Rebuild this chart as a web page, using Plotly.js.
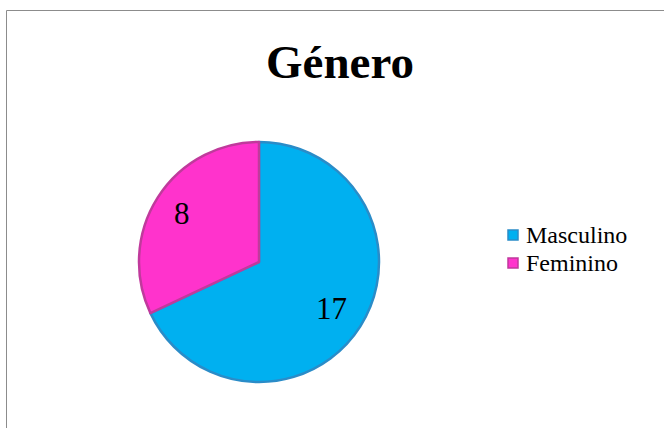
<!DOCTYPE html>
<html><head><meta charset="utf-8">
<script src="https://cdn.plot.ly/plotly-3.0.1.min.js"></script>
<style>html,body{margin:0;padding:0;background:#fff}#c{width:664px;height:428px}</style>
</head><body><div id="c"></div>
<script>
const categories = ['Masculino', 'Feminino'];
const values = [17, 8];
const sliceColors = ['#00B0F0', '#FF33CC'];
const edgeColors = ['#2A8CC8', '#C03A9C'];
const chartTitle = 'Género';

const W = 664, H = 428;
const px = x => x / W, py = y => 1 - y / H;
const serif = '"Liberation Serif", "Times New Roman", serif';

// pie geometry (pixels)
const cx = 259, cy = 262, R = 120;

const trace = {
  type: 'pie',
  labels: categories,
  values: values,
  sort: false,
  direction: 'clockwise',
  rotation: 0,
  textinfo: 'none',
  marker: {colors: sliceColors, line: {color: edgeColors, width: 2.5}},
  domain: {x: [px(cx - R), px(cx + R)], y: [py(cy + R), py(cy - R)]},
  showlegend: false,
  hoverinfo: 'none'
};

// value labels placed at the middle angle of each slice
const total = values.reduce((a, b) => a + b, 0);
const labelR = [0.72, 0.76];
let acc = 0;
const annotations = values.map((v, i) => {
  const mid = (acc + v / 2) / total * 2 * Math.PI; acc += v;
  const x = cx + Math.sin(mid) * R * labelR[i];
  const y = cy - Math.cos(mid) * R * labelR[i];
  return {xref: 'paper', yref: 'paper', x: px(x), y: py(y), xanchor: 'center', yanchor: 'middle',
          text: String(v), showarrow: false, font: {family: serif, size: 31, color: '#000'}};
});

// legend (text + swatches)
const legX = 508, legY0 = 235, legStep = 28;
const shapes = [
  {type: 'line', xref: 'paper', yref: 'paper', x0: px(6.5), x1: 1.05, y0: py(10.5), y1: py(10.5), line: {color: '#8c8c8c', width: 1}},
  {type: 'line', xref: 'paper', yref: 'paper', x0: px(6.5), x1: px(6.5), y0: py(10.5), y1: -0.05, line: {color: '#8c8c8c', width: 1}}
];
categories.forEach((c, i) => {
  const y = legY0 + i * legStep;
  shapes.push({type: 'rect', xref: 'paper', yref: 'paper', x0: px(legX), x1: px(legX + 10), y0: py(y + 5), y1: py(y - 5),
               fillcolor: sliceColors[i], line: {color: edgeColors[i], width: 1.5}});
  annotations.push({xref: 'paper', yref: 'paper', x: px(legX + 17), y: py(y), xanchor: 'left', yanchor: 'middle',
                    text: c, showarrow: false, borderpad: 0, font: {family: serif, size: 24, color: '#000'}});
});

const layout = {
  width: W, height: H,
  margin: {l: 0, r: 0, t: 0, b: 0},
  paper_bgcolor: '#fff',
  title: {text: '<b>' + chartTitle + '</b>', x: px(340), xanchor: 'center', y: py(62), yanchor: 'middle', yref: 'paper',
          font: {family: serif, size: 47, color: '#000'}},
  showlegend: false,
  annotations: annotations,
  shapes: shapes
};

Plotly.newPlot('c', [trace], layout, {displayModeBar: false, staticPlot: true});
</script></body></html>
